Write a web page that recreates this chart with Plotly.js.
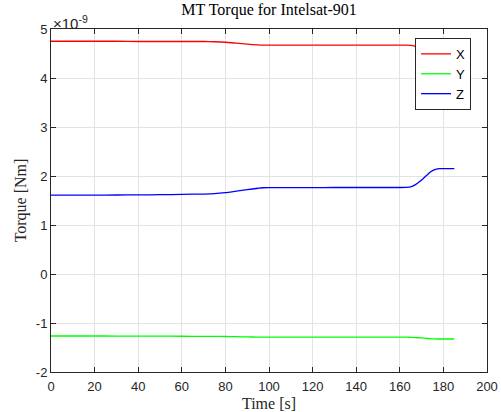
<!DOCTYPE html>
<html>
<head>
<meta charset="utf-8">
<script src="https://cdn.plot.ly/plotly-3.0.1.min.js"></script>
<style>
  html, body { margin: 0; padding: 0; background: #fff; }
  #chart { width: 501px; height: 412px; }
</style>
</head>
<body>
<div id="chart"></div>
<script>
// Magnetorquer torque components, in units of 1e-9 Nm
const timeS = [0, 10, 20, 30, 40, 50, 60, 70, 75, 80, 85, 90, 95, 97, 100, 110, 120, 130, 140, 150, 160, 163, 165, 167, 170, 172, 174, 176, 178, 180, 185];
const torqueX = [4.75, 4.75, 4.75, 4.75, 4.745, 4.745, 4.745, 4.745, 4.74, 4.73, 4.71, 4.69, 4.675, 4.67, 4.67, 4.67, 4.67, 4.67, 4.67, 4.67, 4.67, 4.67, 4.665, 4.65, 4.62, 4.6, 4.59, 4.58, 4.58, 4.58, 4.58];
const torqueY = [-1.265, -1.265, -1.265, -1.266, -1.267, -1.268, -1.27, -1.272, -1.274, -1.276, -1.28, -1.284, -1.288, -1.29, -1.29, -1.29, -1.29, -1.29, -1.29, -1.29, -1.29, -1.29, -1.292, -1.297, -1.305, -1.313, -1.32, -1.325, -1.327, -1.327, -1.327];
const torqueZ = [1.61, 1.61, 1.61, 1.612, 1.614, 1.618, 1.625, 1.632, 1.64, 1.66, 1.69, 1.72, 1.75, 1.76, 1.762, 1.763, 1.764, 1.765, 1.765, 1.765, 1.765, 1.768, 1.78, 1.82, 1.92, 2.0, 2.08, 2.13, 2.15, 2.15, 2.15];
const seriesNames = ['X', 'Y', 'Z'];
const seriesColors = ['#ff0000', '#00ff00', '#0000ff'];
const xTicks = [0, 20, 40, 60, 80, 100, 120, 140, 160, 180, 200];
const yTicks = [-2, -1, 0, 1, 2, 3, 4, 5];

const axisColor = '#262626';
const sans = 'Liberation Sans, Arial, sans-serif';
const serif = 'Liberation Serif, Times New Roman, serif';

const traces = [torqueX, torqueY, torqueZ].map((vals, i) => ({
  x: timeS,
  y: vals,
  type: 'scatter',
  mode: 'lines',
  name: seriesNames[i],
  line: { color: seriesColors[i], width: 1.3, shape: 'spline', smoothing: 0.6 }
}));

const axisCommon = {
  showline: true,
  linecolor: axisColor,
  linewidth: 1,
  mirror: 'ticks',
  ticks: 'inside',
  ticklen: 5,
  tickcolor: axisColor,
  showgrid: true,
  gridcolor: '#e3e3e3',
  gridwidth: 1,
  zeroline: false,
  tickfont: { family: sans, size: 13, color: axisColor }
};

const layout = {
  width: 501,
  height: 412,
  paper_bgcolor: '#ffffff',
  plot_bgcolor: '#ffffff',
  margin: { l: 51, r: 14, t: 29, b: 40 },
  title: {
    text: 'MT Torque for Intelsat-901',
    font: { family: serif, size: 16, color: '#000' },
    x: 0.537, xanchor: 'center',
    y: 0.99, yanchor: 'top'
  },
  xaxis: Object.assign({}, axisCommon, {
    range: [0, 200],
    tickvals: xTicks,
    ticktext: xTicks.map(String),
    ticklabelstandoff: 2,
    title: { text: 'Time [s]', font: { family: serif, size: 16, color: axisColor }, standoff: 5 }
  }),
  yaxis: Object.assign({}, axisCommon, {
    range: [-2, 5],
    tickvals: yTicks,
    ticktext: yTicks.map(String),
    title: { text: 'Torque [Nm]', font: { family: serif, size: 16, color: axisColor }, standoff: 5 }
  }),
  legend: {
    x: 0.835, xanchor: 'left',
    y: 0.974, yanchor: 'top',
    bgcolor: '#ffffff',
    bordercolor: axisColor,
    borderwidth: 1,
    font: { family: sans, size: 13, color: '#000' },
    tracegroupgap: 0,
    itemwidth: 30
  },
  showlegend: true,
  annotations: [{
    xref: 'paper', yref: 'paper',
    x: 0, y: 1,
    xanchor: 'left', yanchor: 'bottom',
    showarrow: false,
    text: '×10<sup>-9</sup>',
    font: { family: sans, size: 15, color: axisColor },
    xshift: 0, yshift: -5
  }]
};

Plotly.newPlot('chart', traces, layout, { displayModeBar: false, staticPlot: true });
</script>
</body>
</html>
